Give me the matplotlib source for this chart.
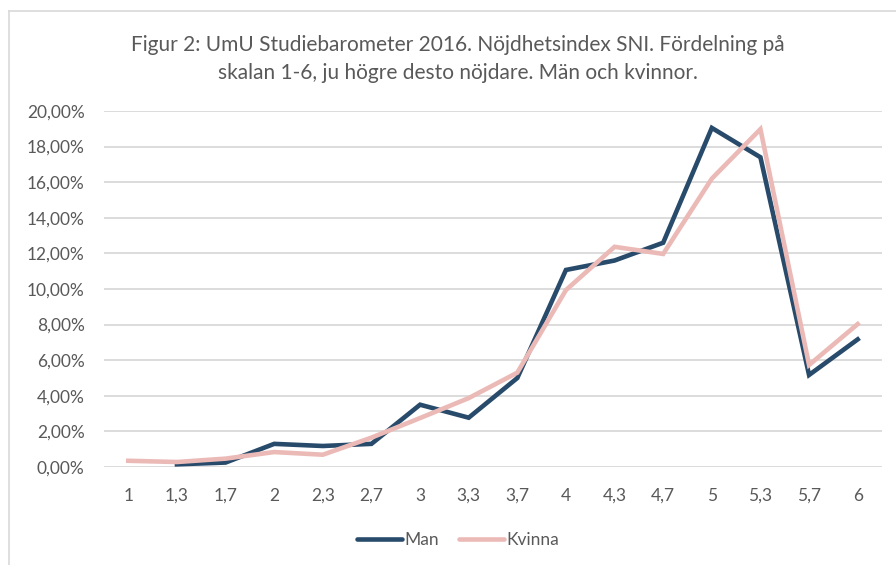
import matplotlib.pyplot as plt
import numpy as np
from matplotlib.lines import Line2D

# skalsteg 1-6
steps = ["1", "1,3", "1,7", "2", "2,3", "2,7", "3", "3,3", "3,7",
         "4", "4,3", "4,7", "5", "5,3", "5,7", "6"]

# andel i procent
man = [np.nan, 0.15, 0.25, 1.3, 1.18, 1.3, 3.5, 2.77, 5.0,
       11.07, 11.6, 12.6, 19.05, 17.4, 5.17, 7.17]
kvinna = [0.35, 0.28, 0.47, 0.84, 0.69, 1.65, 2.75, 3.87, 5.3,
          9.94, 12.37, 11.97, 16.2, 18.98, 5.73, 8.03]

col_man = "#284B6B"
col_kv = "#EBBAB7"
txt = "#595959"

plt.rcParams['font.family'] = ['Lato', 'DejaVu Sans']

fig = plt.figure(figsize=(8.96, 5.65), dpi=100)
ax = fig.add_axes([104/896, 1-467/565, 778/896, 356/565])

x = np.arange(len(steps))
ax.plot(x, man, color=col_man, lw=3.3, solid_joinstyle='miter', zorder=3)
ax.plot(x, kvinna, color=col_kv, lw=3.3, solid_joinstyle='miter', zorder=4)

ax.set_xlim(-0.5, len(steps) - 0.5)
ax.set_ylim(0, 20)
ax.set_yticks(np.arange(0, 21, 2))
ax.set_yticklabels([f"{v:.2f}".replace(".", ",") + "%" for v in range(0, 21, 2)])
ax.set_xticks(x)
ax.set_xticklabels(steps)
ax.tick_params(length=0, colors=txt, labelsize=12.5)
ax.tick_params(axis='y', pad=14)
ax.tick_params(axis='x', pad=15)
ax.grid(axis='y', color="#D9D9D9", lw=1.3)
ax.set_axisbelow(True)
for s in ax.spines.values():
    s.set_visible(False)

fig.text(458/896, 1-45/565, "Figur 2: UmU Studiebarometer 2016. Nöjdhetsindex SNI. Fördelning på",
         ha='center', va='center', fontsize=15, color=txt)
fig.text(458/896, 1-73/565, "skalan 1-6, ju högre desto nöjdare. Män och kvinnor.",
         ha='center', va='center', fontsize=15, color=txt)

handles = [Line2D([], [], color=col_man, lw=3.3, solid_capstyle='round'),
           Line2D([], [], color=col_kv, lw=3.3, solid_capstyle='round')]
fig.legend(handles, ["Man", "Kvinna"], loc='center', bbox_to_anchor=(458/896, 1-540/565),
           ncol=2, frameon=False, fontsize=12.5, labelcolor=txt,
           handlelength=2.6, handletextpad=0.1, columnspacing=1.2)

# ram runt diagrammet
fig.add_artist(Line2D([9/896, 9/896], [0, 1-11/565], color="#D9D9D9", lw=1.2))
fig.add_artist(Line2D([9/896, 1], [1-11/565, 1-11/565], color="#D9D9D9", lw=1.2))

fig.savefig("out.png", dpi=100)
